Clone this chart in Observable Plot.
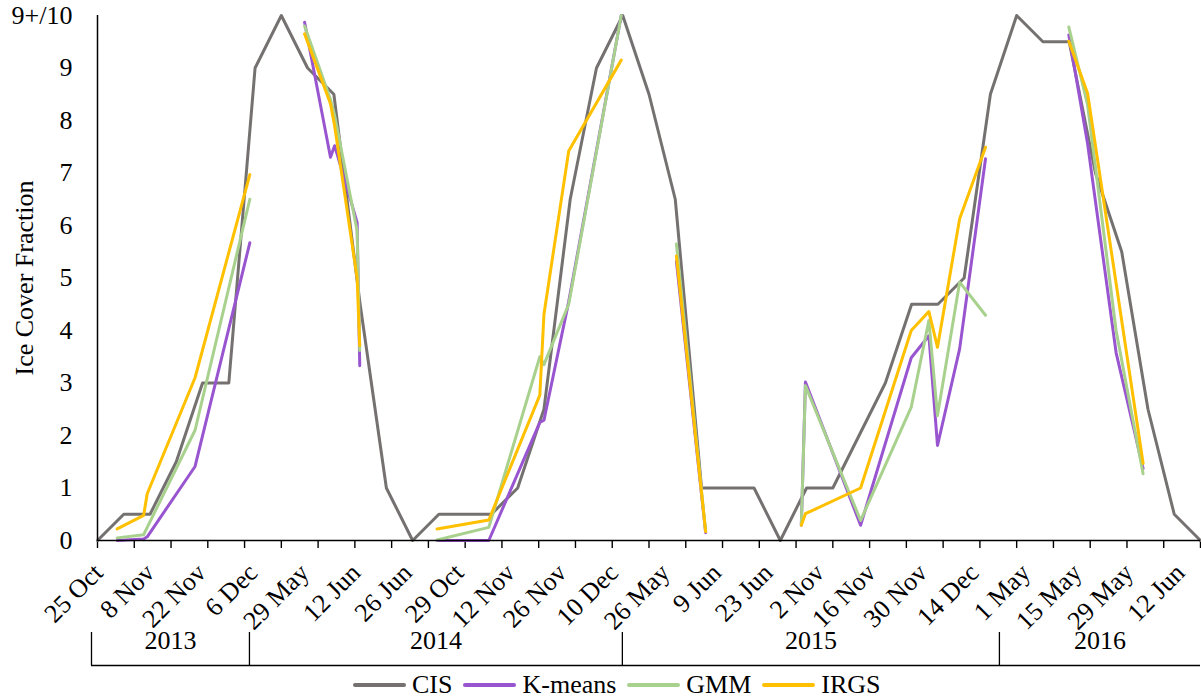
<!DOCTYPE html>
<html>
<head>
<meta charset="utf-8">
<script src="https://cdn.jsdelivr.net/npm/d3@7"></script>
<script src="https://cdn.jsdelivr.net/npm/@observablehq/plot@0.6"></script>
<style>
  body { margin: 0; background: #fff; font-family: "Liberation Serif", "Times New Roman", serif; }
  #chart { width: 1201px; }
  #legend { position: relative; width: 1201px; height: 30px; }
  #legend .items { position: absolute; left: 353px; top: 0; height: 34px; display: flex; align-items: center; font-size: 26px; color: #000; }
  #legend .sw { width: 53px; height: 3.5px; margin-right: 6px; border-radius: 2px; }
  #legend .lab { margin-right: 11px; line-height: 1; }
</style>
</head>
<body>
<div id="chart"></div>
<div id="legend"></div>
<script>
// ---- Data ----
// CIS chart values (weekly), x = days on the compressed time axis
const cisDays = [0,7,14,21,28,35,42,49,56,63,70,77,84,91,98,105,112,119,126,133,140,147,154,161,168,175,182,189,196,203,210,217,224,231,238,245,252,259,266,273,280,287,294];
const cisValues = [0,0.5,0.5,1.5,3,3,9,10,9,8.5,4.5,1,0,0.5,0.5,0.5,1,2.5,6.5,9,10,8.5,6.5,1,1,1,0,1,1,2,3,4.5,4.5,5,8.5,10,9.5,9.5,7,5.5,2.5,0.5,0];

// Image acquisition positions (days on the same axis) and season id
const algoDays = [5.25,12.3,13.25,26,40.6, 55.2,62.1,63.2,69.2,69.9, 90.5,104.3,117.9,119,125.6,139.6, 154.3,162.1, 187.6,188.7,203.4,216.9,221.6,223.9,229.8,236.7, 258.9,263.9,271.5,278.7];
const algoSeason = [1,1,1,1,1, 2,2,2,2,2, 3,3,3,3,3,3, 4,4, 5,5,5,5,5,5,5,5, 6,6,6,6];
const kmeansValues = [0,0.03,0.07,1.41,5.67, 9.87,7.3,7.52,6.06,3.33, 0,0,2.25,2.29,4.55,10, 5.32,0.15, 0.29,3.02,0.29,3.48,3.9,1.81,3.65,7.27, 9.63,7.56,3.58,1.37];
const gmmValues = [0.05,0.11,0.25,2.1,6.5, 9.8,8.4,8.1,5.9,3.62, 0.01,0.25,3.5,3.35,4.5,10, 5.65,0.17, 0.3,2.95,0.38,2.54,4.19,2.38,4.92,4.29, 9.78,8.3,4.0,1.27];
const irgsValues = [0.22,0.48,0.89,3.1,6.97, 9.65,8.32,7.9,5.0,3.71, 0.22,0.39,2.77,4.31,7.42,9.15, 5.42,0.17, 0.29,0.51,1.0,4.0,4.36,3.68,6.13,7.49, 9.51,8.52,4.9,1.47];

// Axis labels
const yTickValues = [0,1,2,3,4,5,6,7,8,9,10];
const yTickLabels = ["0","1","2","3","4","5","6","7","8","9","9+/10"];
const dateLabelPos = [0,13.73,27.46,41.2,54.93,68.66,82.39,96.12,109.86,123.59,137.32,151.05,164.78,178.51,192.25,205.98,219.71,233.44,247.17,260.9,274.64,288.37];
const dateLabels = ["25 Oct","8 Nov","22 Nov","6 Dec","29 May","12 Jun","26 Jun","29 Oct","12 Nov","26 Nov","10 Dec","26 May","9 Jun","23 Jun","2 Nov","16 Nov","30 Nov","14 Dec","1 May","15 May","29 May","12 Jun"];
const years = ["2013","2014","2015","2016"];
const yearBounds = [-1.6, 40.5, 139.9, 240.4, 294];

const seriesNames = ["CIS","K-means","GMM","IRGS"];
const seriesColors = ["#767171","#9955D0","#A9D18E","#FFC000"];

// ---- Build tables ----
const cisData = cisDays.map((d, i) => ({day: d, v: cisValues[i]}));
function algoTable(vals) { return algoDays.map((d, i) => ({day: d, season: algoSeason[i], v: vals[i]})); }
const xMajorTicks = d3.range(31).map(i => i * 294 / 30);
const FS = 26;

const lineOpts = (color) => ({x: "day", y: "v", stroke: color, strokeWidth: 3, strokeLinejoin: "round", strokeLinecap: "round"});

const chart = Plot.plot({
  width: 1201,
  height: 668,
  marginLeft: 97,
  marginRight: 1,
  marginTop: 15,
  marginBottom: 128,
  x: {domain: [0, 294]},
  y: {domain: [0, 10]},
  style: {fontFamily: "'Liberation Serif', 'Times New Roman', serif", fontSize: FS + "px", color: "#000", background: "#fff", overflow: "visible"},
  marks: [
    Plot.axisY({ticks: yTickValues, tickFormat: d => yTickLabels[yTickValues.indexOf(d)], tickSize: 0, tickPadding: 25, fontSize: FS, label: null}),
    Plot.text(["Ice Cover Fraction"], {frameAnchor: "left", textAnchor: "middle", lineAnchor: "middle", dx: -73, rotate: -90, fontSize: FS, fill: "#000"}),
    Plot.axisX({ticks: xMajorTicks, tickFormat: () => "", tickSize: 8, strokeWidth: 1.4, label: null}),
    Plot.text(dateLabelPos, {x: d => d, text: (d, i) => dateLabels[i], frameAnchor: "bottom", lineAnchor: "middle", rotate: -45, textAnchor: "end", dx: 1, dy: 28, fontSize: FS, fill: "#000"}),
    Plot.ruleX(yearBounds.slice(0, 4), {x: d => d, insetTop: 617, insetBottom: -125, stroke: "#000", strokeWidth: 1.3}),
    Plot.ruleY([0], {x1: yearBounds[0], x2: yearBounds[4], dy: 125, stroke: "#000", strokeWidth: 1.3}),
    Plot.text(years, {x: (d, i) => (yearBounds[i] + yearBounds[i + 1]) / 2, text: d => d, frameAnchor: "bottom", lineAnchor: "middle", dy: 100, fontSize: FS, fill: "#000"}),
    Plot.line(cisData, lineOpts(seriesColors[0])),
    Plot.line(algoTable(kmeansValues), {...lineOpts(seriesColors[1]), z: "season"}),
    Plot.line(algoTable(gmmValues), {...lineOpts(seriesColors[2]), z: "season"}),
    Plot.line(algoTable(irgsValues), {...lineOpts(seriesColors[3]), z: "season"}),
    Plot.ruleX([0], {stroke: "#000", strokeWidth: 1.5}),
    Plot.ruleY([0], {stroke: "#000", strokeWidth: 1.5})
  ]
});
document.getElementById("chart").appendChild(chart);

// ---- Legend ----
const items = document.createElement("div");
items.className = "items";
seriesNames.forEach((name, i) => {
  const sw = document.createElement("span");
  sw.className = "sw";
  sw.style.background = seriesColors[i];
  const lab = document.createElement("span");
  lab.className = "lab";
  lab.textContent = name;
  items.appendChild(sw);
  items.appendChild(lab);
});
document.getElementById("legend").appendChild(items);
</script>
</body>
</html>
